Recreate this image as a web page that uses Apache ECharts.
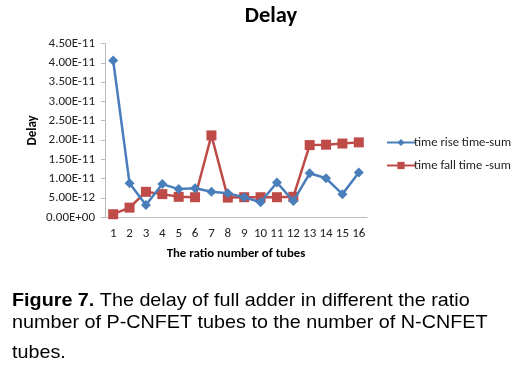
<!DOCTYPE html>
<html><head><meta charset="utf-8">
<script src="https://cdn.jsdelivr.net/npm/echarts@6/dist/echarts.min.js"></script>
<style>html,body{margin:0;padding:0;background:#fff}#c{width:528px;height:370px}</style>
</head><body><div id="c"></div>
<script>
const categories = ['1','2','3','4','5','6','7','8','9','10','11','12','13','14','15','16'];
const riseSum = [4.06e-11,0.88e-11,0.32e-11,0.86e-11,0.73e-11,0.75e-11,0.66e-11,0.62e-11,0.52e-11,0.39e-11,0.90e-11,0.42e-11,1.14e-11,1.01e-11,0.60e-11,1.16e-11];
const fallSum = [0.08e-11,0.25e-11,0.66e-11,0.60e-11,0.53e-11,0.52e-11,2.12e-11,0.51e-11,0.52e-11,0.52e-11,0.52e-11,0.53e-11,1.87e-11,1.88e-11,1.91e-11,1.94e-11];
const seriesNames = ['time rise time-sum','time fall time -sum'];

function fmt(v){
  let s = Number(v).toExponential(2).toUpperCase();
  return s.replace(/E([+-])(\d)$/, 'E$10$2');
}
const chart = echarts.init(document.getElementById('c'));
const font = 'Calibri, Carlito, "Liberation Sans", Arial, sans-serif';
const cap = '"Liberation Sans", Arial, sans-serif';
chart.setOption({
  animation:false,
  title:{text:'Delay',left:266,textAlign:'center',top:0,textStyle:{fontFamily:font,fontSize:22.5,fontWeight:'bold',color:'#000'}},
  grid:{left:105,right:161,top:43.5,bottom:152.7,containLabel:false},
  legend:{orient:'vertical',left:381,top:131,itemWidth:28,itemHeight:9,itemGap:10,
    textStyle:{fontFamily:font,fontSize:12.7,color:'#222',padding:[0,0,0,-6]},
    data:seriesNames},
  xAxis:{type:'category',data:categories,boundaryGap:true,
    name:'The ratio number of tubes',nameLocation:'middle',nameGap:30,
    nameTextStyle:{fontFamily:font,fontSize:12.8,fontWeight:'bold',color:'#000'},
    axisLine:{lineStyle:{color:'#bbb'}},axisTick:{show:false},
    axisLabel:{fontFamily:font,fontSize:13,color:'#222',margin:10,interval:0}},
  yAxis:{type:'value',min:0,max:4.5e-11,interval:0.5e-11,
    name:'Delay',nameLocation:'middle',nameGap:66,
    nameTextStyle:{fontFamily:font,fontSize:13,fontWeight:'bold',color:'#000'},
    axisLine:{show:true,lineStyle:{color:'#bbb'}},axisTick:{show:true,length:4,lineStyle:{color:'#bbb'}},
    splitLine:{show:false},
    axisLabel:{fontFamily:font,fontSize:13,color:'#222',margin:10,formatter:fmt}},
  series:[
    {name:seriesNames[0],type:'line',data:riseSum,symbol:'diamond',symbolSize:10,
     lineStyle:{width:2.5,color:'#4a7ebb'},itemStyle:{color:'#4a7ebb'},z:3},
    {name:seriesNames[1],type:'line',data:fallSum,symbol:'rect',symbolSize:10,
     lineStyle:{width:2.5,color:'#be4b48'},itemStyle:{color:'#be4b48'},z:2}
  ],
  graphic:[
    {type:'text',x:12,y:291,scaleX:1.04,style:{verticalAlign:'top',rich:{b:{fontFamily:cap,fontSize:19,fontWeight:'bold',fill:'#000'},n:{fontFamily:cap,fontSize:19,fill:'#000'}},text:'{b|Figure 7.}{n| The delay of full adder in different the ratio}'}},
    {type:'text',x:12,y:313,scaleX:1.04,style:{verticalAlign:'top',fontFamily:cap,fontSize:19,fill:'#000',text:'number of P-CNFET tubes to the number of N-CNFET'}},
    {type:'text',x:12,y:343,scaleX:1.04,style:{verticalAlign:'top',fontFamily:cap,fontSize:19,fill:'#000',text:'tubes.'}}
  ]
});
</script></body></html>
